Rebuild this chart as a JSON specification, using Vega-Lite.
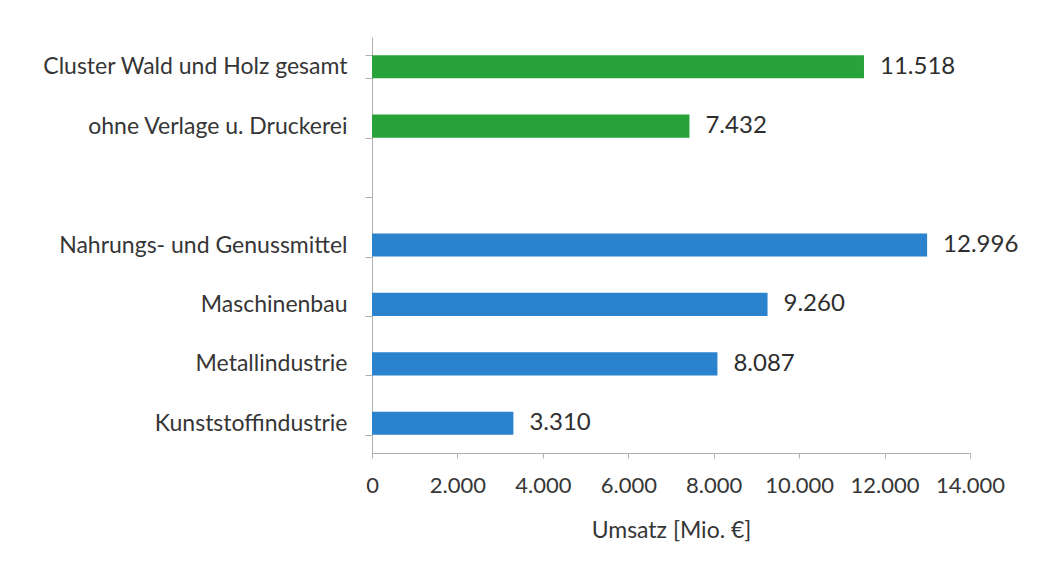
{
  "$schema": "https://vega.github.io/schema/vega-lite/v6.json",
  "autosize": "none",
  "width": 598,
  "height": 416,
  "padding": {"left": 372, "top": 37, "right": 69, "bottom": 110},
  "background": "white",
  "config": {
    "locale": {"number": {"decimal": ",", "thousands": ".", "grouping": [3], "currency": ["", " €"]}},
    "view": {"stroke": null},
    "font": "Lato"
  },
  "data": {
    "values": [
      {"Kategorie": "Cluster Wald und Holz gesamt", "Umsatz": 11518, "Gruppe": "Wald"},
      {"Kategorie": "ohne Verlage u. Druckerei", "Umsatz": 7432, "Gruppe": "Wald"},
      {"Kategorie": "Nahrungs- und Genussmittel", "Umsatz": 12996, "Gruppe": "Andere"},
      {"Kategorie": "Maschinenbau", "Umsatz": 9260, "Gruppe": "Andere"},
      {"Kategorie": "Metallindustrie", "Umsatz": 8087, "Gruppe": "Andere"},
      {"Kategorie": "Kunststoffindustrie", "Umsatz": 3310, "Gruppe": "Andere"}
    ]
  },
  "encoding": {
    "y": {
      "field": "Kategorie",
      "type": "nominal",
      "scale": {
        "domain": ["Cluster Wald und Holz gesamt", "ohne Verlage u. Druckerei", " ", "Nahrungs- und Genussmittel", "Maschinenbau", "Metallindustrie", "Kunststoffindustrie"],
        "paddingInner": 0.61,
        "paddingOuter": 0.305
      },
      "axis": {
        "title": null,
        "tickBand": "extent",
        "domainColor": "#b0b0b0",
        "tickColor": "#b0b0b0",
        "tickSize": 7,
        "labelPadding": 18,
        "labelFontSize": 23,
        "labelColor": "#363636",
        "labelLimit": 400,
        "grid": false
      }
    },
    "x": {
      "field": "Umsatz",
      "type": "quantitative",
      "scale": {"domain": [0, 14000], "nice": false},
      "axis": {
        "title": "Umsatz [Mio. €]",
        "values": [0, 2000, 4000, 6000, 8000, 10000, 12000, 14000],
        "format": ",.0f",
        "labelOverlap": false,
        "labelFlush": false,
        "grid": false,
        "domainColor": "#b0b0b0",
        "tickColor": "#b0b0b0",
        "tickSize": 5,
        "labelPadding": 17,
        "labelFontSize": 22,
        "labelColor": "#363636",
        "titleFontSize": 23,
        "titleFontWeight": "normal",
        "titleColor": "#363636",
        "titlePadding": 23
      }
    }
  },
  "layer": [
    {
      "mark": {"type": "bar"},
      "encoding": {
        "color": {
          "field": "Gruppe",
          "type": "nominal",
          "scale": {"domain": ["Wald", "Andere"], "range": ["#27a33a", "#2b82cd"]},
          "legend": null
        }
      }
    },
    {
      "mark": {"type": "text", "align": "left", "baseline": "middle", "dx": 16, "fontSize": 24, "color": "#2e2e2e"},
      "encoding": {
        "text": {"field": "Umsatz", "type": "quantitative", "format": ",.0f"}
      }
    }
  ]
}
